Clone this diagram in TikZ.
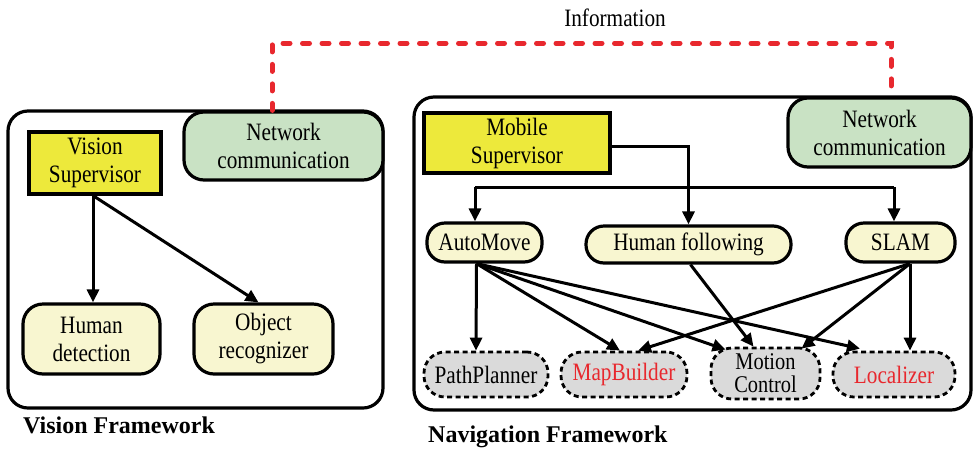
\documentclass[tikz,border=0pt]{standalone}
\usepackage{fontspec}
\setmainfont{Liberation Serif}
\newfontfamily\nodefont[FakeStretch=0.85]{Liberation Serif}
\usetikzlibrary{arrows.meta}
\definecolor{supy}{HTML}{EDE93B}
\definecolor{netg}{HTML}{C9E2C4}
\definecolor{lighty}{HTML}{F8F6D0}
\definecolor{grayf}{HTML}{DADADA}
\definecolor{redt}{HTML}{E8282E}
\tikzset{
  base/.style={draw=black, line width=3.2pt, inner sep=0pt, align=center, font=\nodefont\fontsize{25}{28}\selectfont},
  frame/.style={draw=black, line width=3.2pt, rounded corners=20pt, inner sep=0pt},
  supbox/.style={base, fill=supy},
  netbox/.style={base, fill=netg, rounded corners=20pt},
  taskbox/.style={base, fill=lighty, rounded corners=20pt},
  pillbox/.style={base, fill=lighty, rounded corners=18pt},
  modbox/.style={base, fill=grayf, rounded corners=21pt, line width=2.8pt, dash pattern=on 5pt off 3.5pt},
  arr/.style={line width=3pt, -{Triangle[length=13pt,width=12pt]}},
  plain/.style={line width=3pt},
  reddot/.style={draw=redt, line width=5pt, line cap=round, dash pattern=on 7pt off 12.5pt},
  lbl/.style={inner sep=0pt, font=\fontsize{24}{28}\selectfont\bfseries, anchor=west},
}
\begin{document}
\begin{tikzpicture}[x=1pt,y=-1pt]
\useasboundingbox (0,0) rectangle (974,448);
% frames
\node[frame, minimum width=375pt, minimum height=297pt] (visbox) at (195.5,259.5) {};
\node[frame, minimum width=557pt, minimum height=313pt] (navbox) at (692.5,253.5) {};
% vision framework
\node[supbox, minimum width=132pt, minimum height=62pt] (vsup) at (95,163) {Vision\\Supervisor};
\node[netbox, minimum width=199pt, minimum height=68pt] (netL) at (283.5,146) {Network\\communication};
\node[taskbox, minimum width=137pt, minimum height=70pt] (hdet) at (91.5,339) {Human\\detection};
\node[taskbox, minimum width=139pt, minimum height=70pt] (objr) at (263.5,339) {Object\\recognizer};
% navigation framework
\node[supbox, minimum width=186pt, minimum height=60pt] (msup) at (517,143) {Mobile\\Supervisor};
\node[netbox, minimum width=183pt, minimum height=69pt] (netR) at (879.5,132.5) {Network\\communication};
\node[pillbox, minimum width=115pt, minimum height=39pt] (automove) at (484.5,242.5) {AutoMove};
\node[pillbox, minimum width=205pt, minimum height=37pt] (hfol) at (688.5,244.5) {Human following};
\node[pillbox, minimum width=109pt, minimum height=39pt] (slam) at (900.5,242.5) {SLAM};
\node[modbox, minimum width=124pt, minimum height=45pt] (pp) at (486,374.5) {PathPlanner};
\node[modbox, minimum width=126pt, minimum height=45pt, text=redt] (mb) at (624,374.5) {MapBuilder};
\node[modbox, minimum width=109pt, minimum height=51pt, font=\nodefont\fontsize{24}{23}\selectfont] (mc) at (765.5,373.5) {Motion\\Control};
\node[modbox, minimum width=122pt, minimum height=45pt, text=redt] (loc) at (894,374.5) {Localizer};
% labels
\node[inner sep=0pt, font=\nodefont\fontsize{25}{28}\selectfont] (info) at (615,18) {Information};
\node[lbl] (vislbl) at (23,425) {Vision Framework};
\node[lbl] (navlbl) at (428,437) {Navigation Framework};
% information link
\draw[reddot] ([xshift=-11.5pt]netL.north) -- ++(0,-67) -| ([xshift=11.5pt]netR.north);
% vision arrows
\coordinate (vs) at ([xshift=-2pt]vsup.south);
\draw[arr] (vs) -- (vs |- hdet.north);
\draw[arr] (vs) -- ([xshift=-5pt]objr.north);
% navigation arrows
\draw[arr] ([yshift=-3pt]msup.east) -| (hfol.north);
\coordinate (bl) at (475,187);
\coordinate (br) at (894,187);
\draw[plain] (bl) -- (br);
\draw[arr] (bl) -- (bl |- automove.north);
\draw[arr] (br) -- (br |- slam.north);
\coordinate (am) at ([xshift=-8pt]automove.south);
\draw[arr] (am) -- ([xshift=-10pt]pp.north);
\draw[arr] (am) -- ([xshift=-4pt]mb.north);
\draw[arr] (am) -- ([xshift=-40pt,yshift=-3pt]mc.north);
\draw[arr] (am) -- ([xshift=-34pt,yshift=2pt]loc.north);
\draw[arr] ([xshift=2pt]hfol.south) -- ([xshift=-12pt]mc.north);
\coordinate (sl) at ([xshift=9.5pt]slam.south);
\draw[arr] (sl) -- ([xshift=14pt]mb.north);
\draw[arr] (sl) -- ([xshift=36pt,yshift=-2pt]mc.north);
\draw[arr] (sl) -- (sl |- loc.north);
\end{tikzpicture}
\end{document}
